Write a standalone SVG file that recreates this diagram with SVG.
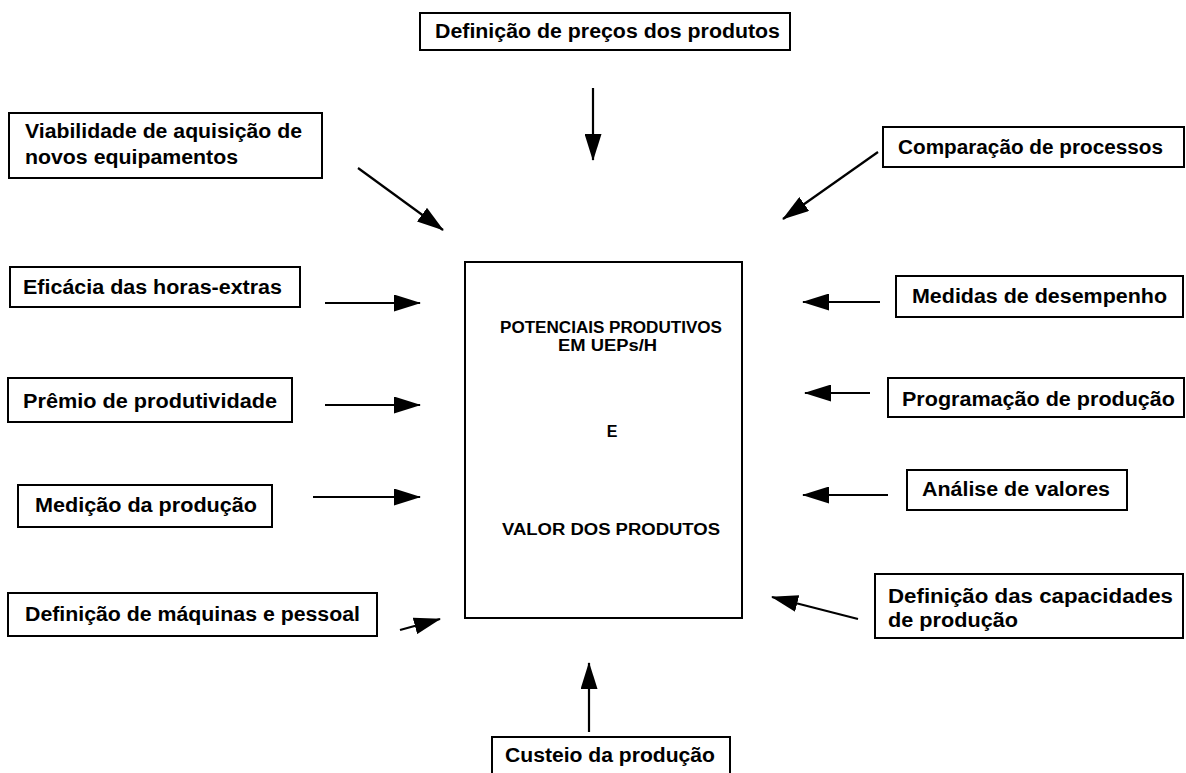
<svg xmlns="http://www.w3.org/2000/svg" width="1186" height="773" viewBox="0 0 1186 773">
<style>
.box{fill:#fff;stroke:#000;stroke-width:2}
.lbl{font-family:"Liberation Sans",Arial,sans-serif;font-weight:bold;font-size:20px;fill:#000}
.ctr{font-family:"Liberation Sans",Arial,sans-serif;font-weight:bold;font-size:16px;fill:#000}
.con{stroke:#000;stroke-width:2.2;fill:none;marker-end:url(#ah)}
</style>
<defs>
<marker id="ah" markerUnits="userSpaceOnUse" markerWidth="27" markerHeight="17" refX="26" refY="8.5" orient="auto">
<path d="M0,0 L27,8.5 L0,17 Z" fill="#000"/>
</marker>
</defs>
<rect width="1186" height="773" fill="#fff"/>
<g id="center">
<rect class="box" x="465" y="262" width="277" height="356"/>
<text class="ctr" x="500" y="333" textLength="222" lengthAdjust="spacingAndGlyphs">POTENCIAIS PRODUTIVOS</text>
<text class="ctr" x="558" y="351" textLength="99" lengthAdjust="spacingAndGlyphs">EM UEPs/H</text>
<text class="ctr" x="612" y="437" text-anchor="middle">E</text>
<text class="ctr" x="502" y="535" textLength="218" lengthAdjust="spacingAndGlyphs">VALOR DOS PRODUTOS</text>
</g>
<g id="n-precos">
<rect class="box" x="420" y="13" width="370" height="37"/>
<text class="lbl" x="435" y="38" textLength="345" lengthAdjust="spacingAndGlyphs">Definição de preços dos produtos</text>
</g>
<g id="n-viabilidade">
<rect class="box" x="9" y="113" width="313" height="65"/>
<text class="lbl" x="25" y="138" textLength="277" lengthAdjust="spacingAndGlyphs">Viabilidade de aquisição de</text>
<text class="lbl" x="25" y="164" textLength="213" lengthAdjust="spacingAndGlyphs">novos equipamentos</text>
</g>
<g id="n-comparacao">
<rect class="box" x="883" y="127" width="301" height="40"/>
<text class="lbl" x="898" y="154" textLength="265" lengthAdjust="spacingAndGlyphs">Comparação de processos</text>
</g>
<g id="n-eficacia">
<rect class="box" x="10" y="267" width="290" height="40"/>
<text class="lbl" x="23" y="294" textLength="259" lengthAdjust="spacingAndGlyphs">Eficácia das horas-extras</text>
</g>
<g id="n-premio">
<rect class="box" x="8" y="378" width="284" height="44"/>
<text class="lbl" x="23" y="408" textLength="254" lengthAdjust="spacingAndGlyphs">Prêmio de produtividade</text>
</g>
<g id="n-medicao">
<rect class="box" x="18" y="485" width="254" height="42"/>
<text class="lbl" x="35" y="512" textLength="222" lengthAdjust="spacingAndGlyphs">Medição da produção</text>
</g>
<g id="n-maquinas">
<rect class="box" x="8" y="593" width="369" height="43"/>
<text class="lbl" x="25" y="621" textLength="335" lengthAdjust="spacingAndGlyphs">Definição de máquinas e pessoal</text>
</g>
<g id="n-medidas">
<rect class="box" x="896" y="276" width="287" height="41"/>
<text class="lbl" x="912" y="303" textLength="255" lengthAdjust="spacingAndGlyphs">Medidas de desempenho</text>
</g>
<g id="n-programacao">
<rect class="box" x="888" y="378" width="296" height="39"/>
<text class="lbl" x="902" y="406" textLength="273" lengthAdjust="spacingAndGlyphs">Programação de produção</text>
</g>
<g id="n-analise">
<rect class="box" x="907" y="470" width="220" height="40"/>
<text class="lbl" x="922" y="496" textLength="188" lengthAdjust="spacingAndGlyphs">Análise de valores</text>
</g>
<g id="n-capacidades">
<rect class="box" x="875" y="574" width="308" height="64"/>
<text class="lbl" x="888" y="603" textLength="285" lengthAdjust="spacingAndGlyphs">Definição das capacidades</text>
<text class="lbl" x="888" y="627" textLength="130" lengthAdjust="spacingAndGlyphs">de produção</text>
</g>
<g id="n-custeio">
<rect class="box" x="492" y="737" width="238" height="60"/>
<text class="lbl" x="505" y="762" textLength="210" lengthAdjust="spacingAndGlyphs">Custeio da produção</text>
</g>
<g id="connectors">
<line class="con" x1="593" y1="88" x2="593" y2="160"/>
<line class="con" x1="358" y1="168" x2="443" y2="230"/>
<line class="con" x1="878" y1="152" x2="783" y2="219"/>
<line class="con" x1="325" y1="303" x2="420" y2="303"/>
<line class="con" x1="325" y1="405" x2="420" y2="405"/>
<line class="con" x1="313" y1="497" x2="420" y2="497"/>
<line class="con" x1="400" y1="630" x2="440" y2="619"/>
<line class="con" x1="880" y1="302" x2="803" y2="302"/>
<line class="con" x1="870" y1="393" x2="805" y2="393"/>
<line class="con" x1="888" y1="495" x2="803" y2="495"/>
<line class="con" x1="858" y1="619" x2="772" y2="597"/>
<line class="con" x1="589" y1="732" x2="589" y2="663"/>
</g>
</svg>
